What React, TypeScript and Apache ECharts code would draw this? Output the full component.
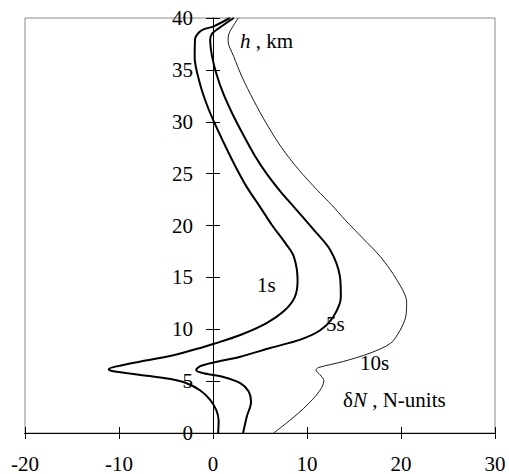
import React, { useEffect, useRef } from "react";
import * as echarts from "echarts";

const xTicks = { min: -20, max: 30, step: 10 };
const yTicks = { min: 0, max: 40, step: 5 };

const series1s: [number, number][] = [
  [0.55, 0], [0.6, 1.2], [0.35, 2.2], [-0.3, 3.2], [-1.35, 4.1], [-2.8, 4.8], [-4.5, 5.2],
  [-7.7, 5.6], [-10.6, 5.95], [-11.1, 6.15], [-10.4, 6.4], [-7.7, 6.9], [-4.2, 7.5],
  [-1.35, 8.2], [0.1, 8.6], [2.9, 9.45], [5.7, 10.6], [7.6, 11.8], [8.7, 13.1], [9.0, 14.7],
  [8.6, 17.0], [7.7, 18.3], [6.3, 20.0], [5.0, 21.8], [3.6, 23.7], [2.5, 25.5], [1.5, 27.3],
  [0, 30.2], [-0.8, 32.0], [-1.4, 33.7], [-1.95, 36.2], [-1.9, 38.0], [-1.5, 38.6],
  [-1.0, 38.9], [0.07, 39.2], [1.8, 40],
];

const series5s: [number, number][] = [
  [3.2, 0], [3.6, 1.6], [4.05, 3.0], [3.8, 4.0], [2.9, 4.8], [1.1, 5.4], [-1.0, 5.75],
  [-1.8, 6.07], [-1.35, 6.45], [0.06, 6.8], [2.9, 7.35], [6.1, 8.2], [9.3, 9.0], [11.4, 9.9],
  [12.8, 11.2], [13.6, 13.1], [13.5, 15.1], [12.5, 17.6], [10.7, 19.6], [8.6, 21.8],
  [7.16, 23.3], [5.7, 25.0], [4.4, 26.8], [3.3, 28.6], [2.1, 30.7], [1.1, 32.7],
  [0.4, 34.5], [-0.1, 36.3], [-0.3, 37.9], [-0.1, 38.5], [0.6, 39.0], [2.2, 40],
];

const series10s: [number, number][] = [
  [6.45, 0], [11.8, 5.05], [11.4, 5.6], [10.95, 6.07], [11.2, 6.3], [13.9, 6.9], [16.7, 7.7],
  [18.9, 8.65], [19.9, 9.9], [20.5, 11.2], [20.6, 12.6], [19.6, 14.7], [17.8, 17.0],
  [15.9, 18.8], [14.1, 20.5], [12.6, 22.0], [11.1, 23.4], [9.1, 25.4], [7.3, 27.5],
  [5.7, 29.8], [4.3, 32.1], [3.1, 34.3], [2.2, 36.3], [1.6, 37.8], [1.7, 38.5],
  [2.2, 39.3], [2.7, 40],
];

const curveLabels = ["1s", "5s", "10s"];
const axisTitleY = "{i|h} , km";
const axisTitleX = "δ{i|N} , N-units";

const FONT = "Liberation Serif";

const GRID = { left: 25, right: 14, top: 18, bottom: 41 };
const W = 509;

export default function App() {
  const ref = useRef<HTMLDivElement>(null);
  useEffect(() => {
    if (!ref.current) return;
    const chart = echarts.init(ref.current, null, { renderer: "svg" });
    const labelStyle = { fontFamily: FONT, fontSize: 21, color: "#000" };
    const gridWidth = W - GRID.left - GRID.right;
    // place the vertical axis where x = 0 on the horizontal scale
    const yOffset = -gridWidth * (0 - xTicks.min) / (xTicks.max - xTicks.min);
    const xBase = {
      type: "value" as const,
      min: xTicks.min,
      max: xTicks.max,
      interval: xTicks.step,
      position: "bottom" as const,
      splitLine: { show: false },
      axisLine: { onZero: false, lineStyle: { color: "#000", width: 1.2 } },
    };
    const yBase = {
      type: "value" as const,
      min: yTicks.min,
      max: yTicks.max,
      interval: yTicks.step,
      position: "left" as const,
      offset: yOffset,
      splitLine: { show: false },
      axisLine: { onZero: false, lineStyle: { color: "#000", width: 1 } },
    };
    const mk = (data: [number, number][], width: number) => ({
      type: "line" as const,
      data,
      showSymbol: false,
      smooth: 0.3,
      lineStyle: { color: "#000", width },
      silent: true,
    });
    const textEl = (text: string, x: number, y: number) => ({
      type: "text" as const,
      left: x,
      top: y,
      style: {
        text,
        fontFamily: FONT,
        fontSize: 21,
        fill: "#000",
        rich: { i: { fontFamily: FONT, fontSize: 21, fontStyle: "italic", fill: "#000" } },
      },
    });
    chart.setOption({
      animation: false,
      grid: {
        ...GRID,
        outerBoundsMode: "none",
        containLabel: false,
        show: true,
        borderColor: "#888",
        borderWidth: 1,
        backgroundColor: "transparent",
      },
      xAxis: [
        {
          ...xBase,
          axisTick: { show: true, inside: false, length: 6, lineStyle: { color: "#000" } },
          axisLabel: { ...labelStyle, margin: 20 },
        },
        {
          ...xBase,
          axisTick: { show: true, inside: true, length: 6, lineStyle: { color: "#000" } },
          axisLabel: { show: false },
        },
      ],
      yAxis: [
        {
          ...yBase,
          axisTick: { show: true, inside: false, length: 7, lineStyle: { color: "#000" } },
          axisLabel: { ...labelStyle, margin: 20 },
        },
        {
          ...yBase,
          axisTick: { show: true, inside: true, length: 7, lineStyle: { color: "#000" } },
          axisLabel: { show: false },
        },
      ],
      series: [mk(series1s, 2), mk(series5s, 2), mk(series10s, 0.9)],
      graphic: [
        textEl(axisTitleY, 240, 30),
        textEl(curveLabels[0], 257, 274),
        textEl(curveLabels[1], 326, 313),
        textEl(curveLabels[2], 360, 352),
        textEl(axisTitleX, 343, 389),
      ],
    });
    return () => chart.dispose();
  }, []);
  return (
    <div
      ref={ref}
      style={{ position: "fixed", left: 0, top: 0, width: W, height: 474, background: "#fff" }}
    />
  );
}
